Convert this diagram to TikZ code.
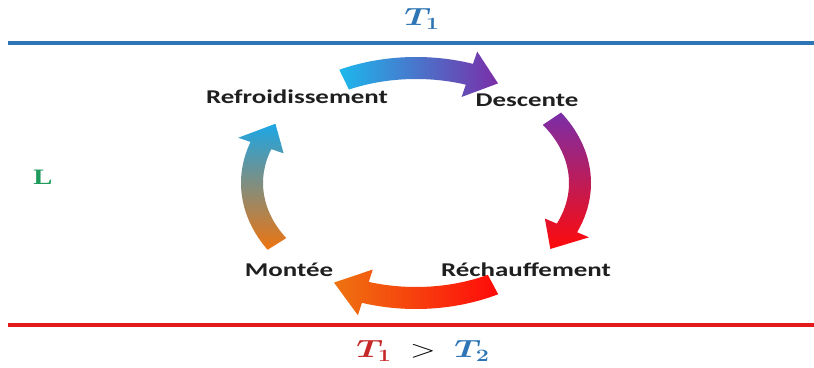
\documentclass[tikz,border=0pt]{standalone}
\usepackage{amsmath,bm}
\usepackage{fontspec}
\setmainfont{Carlito}
\newfontfamily\serifL{Liberation Serif}
\usetikzlibrary{calc}
\definecolor{lineblue}{HTML}{2E75B6}
\definecolor{linered}{HTML}{E31A1C}
\definecolor{tred}{HTML}{C62828}
\definecolor{lgreen}{HTML}{1E9A5A}
\definecolor{acyan}{HTML}{1CB8EC}
\definecolor{apurple}{HTML}{7A2EA8}
\definecolor{ared}{HTML}{FF0A0A}
\definecolor{aorange}{HTML}{EE7410}
\definecolor{ablue}{HTML}{1CA6E6}
\newcommand{\ringarrow}[4]{%
  \path[#4] ($(C)+(#1:175 and 126)$)
    arc[start angle=#1,end angle=#2,x radius=175,y radius=126]
    -- ($(C)+(#2:188 and 139)$)
    -- ($(C)+(#3:164 and 115)$)
    -- ($(C)+(#2:140 and 91)$)
    -- ($(C)+(#2:153 and 104)$)
    arc[start angle=#2,end angle=#1,x radius=153,y radius=104]
    -- cycle;}
\tikzset{
  lbl/.style={font=\fontsize{19.5}{21}\selectfont\bfseries, text=black!88, inner sep=0pt},
  mathlbl/.style={font=\fontsize{24}{27}\selectfont, inner sep=0pt},
}
\begin{document}
\begin{tikzpicture}[x=1pt,y=1pt]
\useasboundingbox (0,0) rectangle (814,367);
\fill[white] (0,0) rectangle (814,367);
\coordinate (C) at (416,184);
% boundary lines
\coordinate (tl) at (8,324); \coordinate (tr) at (814,324);
\coordinate (bl) at (8,42); \coordinate (br) at (814,42);
\draw[lineblue, line width=4.5pt] (tl) -- (tr);
\draw[linered, line width=4.5pt] (bl) -- (br);
% arrows
\ringarrow{116}{71}{60}{left color=acyan, right color=apurple}
\ringarrow{34}{-23}{-35}{top color=apurple, bottom color=ared}
\ringarrow{-62}{-108}{-120}{right color=ared, left color=aorange}
\ringarrow{212}{161}{149}{bottom color=aorange, top color=ablue}
% labels
\node[lbl] (refr) at (297,270) {\scalebox{1.38}[1]{Refroidissement}};
\node[lbl] (desc) at (527,267) {\scalebox{1.38}[1]{Descente}};
\node[lbl] (rech) at (526,97) {\scalebox{1.38}[1]{Réchauffement}};
\node[lbl] (mont) at (289,97) {\scalebox{1.38}[1]{Montée}};
\node[font=\fontsize{22}{24}\selectfont\serifL\bfseries, text=lgreen, inner sep=0pt] (L) at (43,190) {\scalebox{1.3}[1]{L}};
\node[mathlbl, text=lineblue] (t1) at (422,348) {\scalebox{1.35}[1]{$\bm{T_1}$}};
\node[mathlbl] (ineq) at (423,16) {\scalebox{1.35}[1]{$\textcolor{tred}{\bm{T_1}}\;>\;\textcolor{lineblue}{\bm{T_2}}$}};
\end{tikzpicture}
\end{document}
